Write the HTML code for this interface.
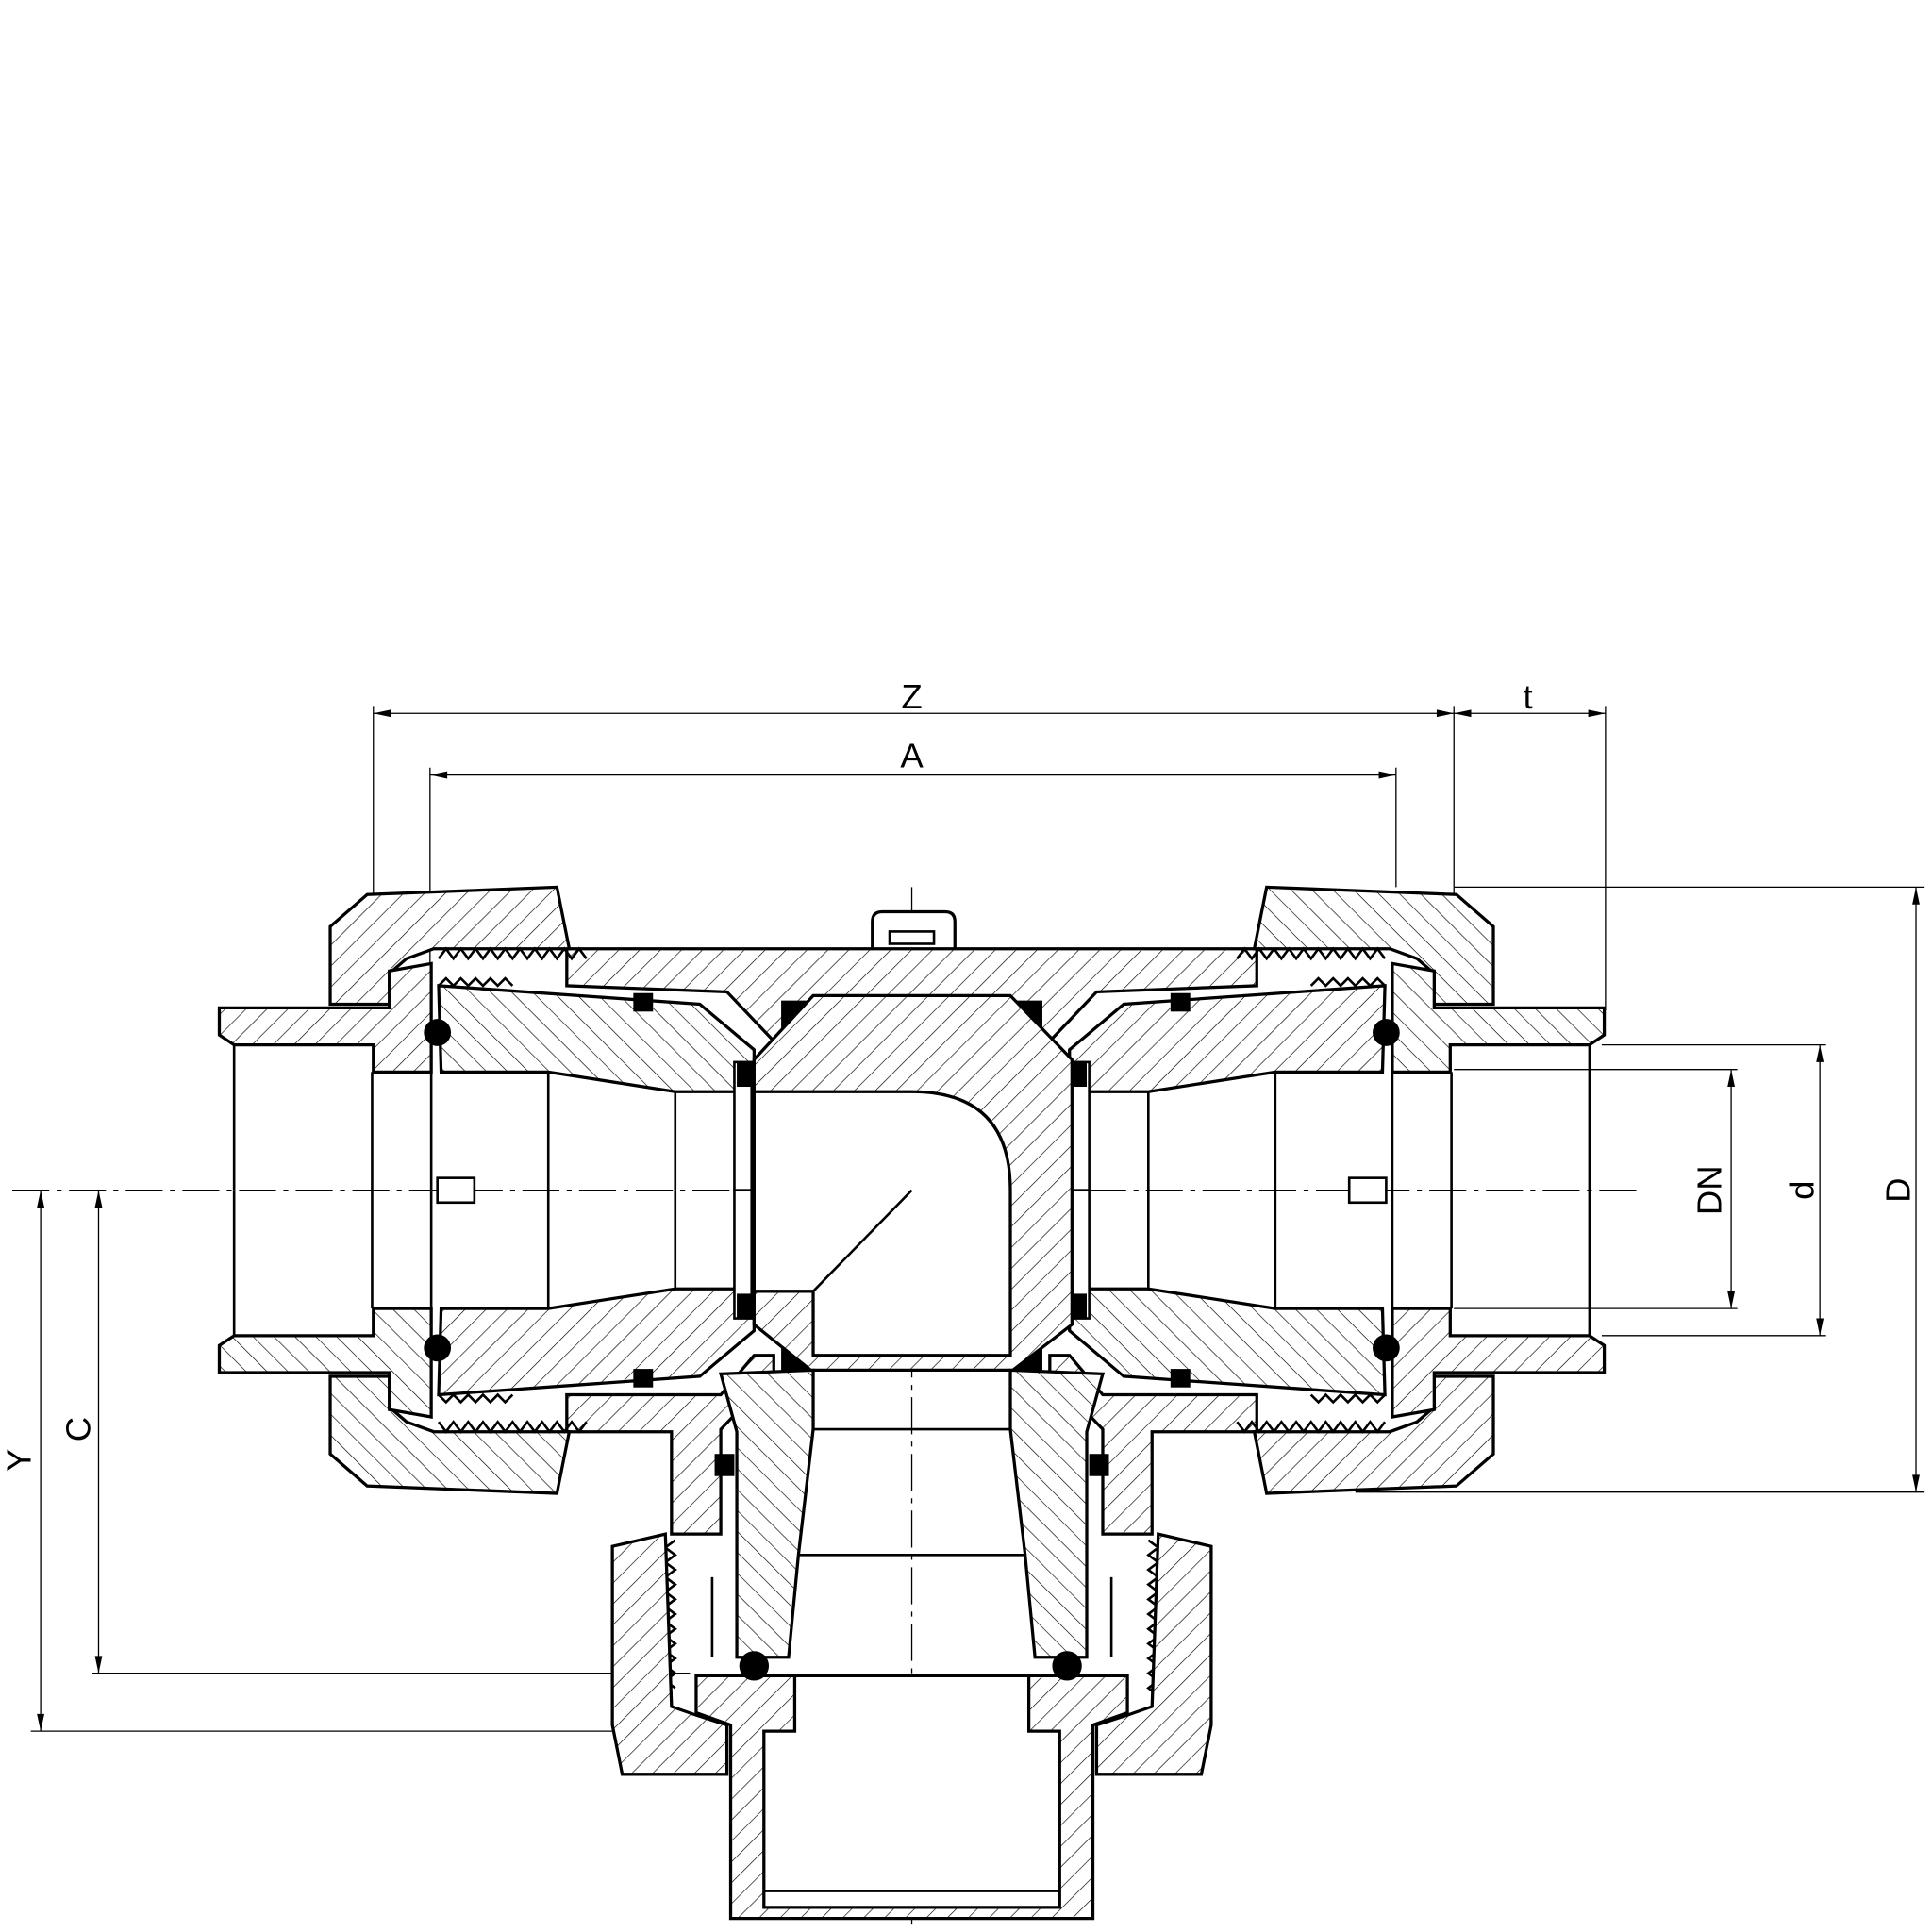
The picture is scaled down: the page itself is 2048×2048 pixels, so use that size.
<!DOCTYPE html>
<html><head><meta charset="utf-8"><style>html,body{margin:0;padding:0;background:#fff}svg{display:block}</style></head>
<body>
<svg width="2048" height="2048" viewBox="0 0 1568 1568" xmlns="http://www.w3.org/2000/svg" font-family="Liberation Sans, sans-serif">
<defs>
<pattern id="h" patternUnits="userSpaceOnUse" width="12" height="12" patternTransform="rotate(45)">
<rect width="12" height="12" fill="#fff"/><line x1="0" y1="0" x2="0" y2="12" stroke="#000" stroke-width="1"/></pattern>
<pattern id="h2" patternUnits="userSpaceOnUse" width="12" height="12" patternTransform="rotate(-45)">
<rect width="12" height="12" fill="#fff"/><line x1="0" y1="0" x2="0" y2="12" stroke="#000" stroke-width="1"/></pattern>
<g id="leftTop">
<path d="M268,752 L298,726 L452,720 L462,770 L352,770 L330,778 L316,790 L316,815 L268,815 Z" fill="url(#h)" stroke="#000" stroke-width="2.5"/>
<path d="M178,818 L316,818 L316,788 L350,782 L350,870 L303,870 L303,848 L190,848 L178,840 Z" fill="url(#h)" stroke="#000" stroke-width="2.5"/>
<path d="M356,800 L568,815 L612,852 L612,886 L548,886 L445,870 L358,870 Z" fill="url(#h2)" stroke="#000" stroke-width="2.5"/>
<path d="M356,778 l6,-8 l6,8 l6,-8 l6,8 l6,-8 l6,8 l6,-8 l6,8 l6,-8 l6,8 l6,-8 l6,8 l6,-8 l6,8 l6,-8 l6,8 l6,-8 l6,8 l6,-8 l6,8" fill="none" stroke="#000" stroke-width="2"/>
<path d="M356,800 l6,-6 l6,6 l6,-6 l6,6 l6,-6 l6,6 l6,-6 l6,6 l6,-6 l6,6" fill="none" stroke="#000" stroke-width="2"/>
<circle cx="355" cy="838" r="11" fill="#000"/>
<rect x="514" y="806" width="16" height="15" fill="#000"/>
<line x1="350" y1="870" x2="350" y2="966" stroke="#000" stroke-width="2"/>
<line x1="302" y1="870" x2="302" y2="966" stroke="#000" stroke-width="2"/>
<line x1="445" y1="870" x2="445" y2="966" stroke="#000" stroke-width="2"/>
<line x1="548" y1="886" x2="548" y2="966" stroke="#000" stroke-width="2"/>
<line x1="190" y1="848" x2="190" y2="966" stroke="#000" stroke-width="2"/>
<line x1="303" y1="870" x2="350" y2="870" stroke="#000" stroke-width="2"/>
<rect x="596" y="862" width="14" height="104" fill="#fff" stroke="#000" stroke-width="2"/>
<rect x="598" y="862" width="22" height="20" fill="#000"/>
<path d="M634,812 L655,812 L655,842 L634,842 Z" fill="#000"/>
</g>
</defs>

<g stroke="#000" stroke-width="1" fill="none">
<line x1="303" y1="579" x2="1303" y2="579"/>
<line x1="349" y1="629" x2="1133" y2="629"/>
<line x1="303" y1="573" x2="303" y2="815"/>
<line x1="349" y1="623" x2="349" y2="820"/>
<line x1="1133" y1="623" x2="1133" y2="720"/>
<line x1="1180" y1="573" x2="1180" y2="815"/>
<line x1="1303" y1="573" x2="1303" y2="820"/>
<line x1="1555" y1="720" x2="1555" y2="1211"/>
<line x1="1477" y1="848" x2="1477" y2="1084"/>
<line x1="1405" y1="868" x2="1405" y2="1062"/>
<line x1="1180" y1="720" x2="1562" y2="720"/>
<line x1="1100" y1="1211" x2="1562" y2="1211"/>
<line x1="1300" y1="848" x2="1482" y2="848"/>
<line x1="1300" y1="1084" x2="1482" y2="1084"/>
<line x1="1180" y1="868" x2="1410" y2="868"/>
<line x1="1180" y1="1062" x2="1410" y2="1062"/>
<line x1="33" y1="966" x2="33" y2="1405"/>
<line x1="80" y1="966" x2="80" y2="1358"/>
<line x1="75" y1="1358" x2="560" y2="1358"/>
<line x1="25" y1="1405" x2="590" y2="1405"/>
<line x1="10" y1="966" x2="1330" y2="966" stroke-dasharray="30,6,4,6"/>
<line x1="740" y1="720" x2="740" y2="1562" stroke-dasharray="30,6,4,6"/>
</g>
<g fill="#000">
<path d="M303,579 l14,-3 v6z M1180,579 l-14,-3 v6z M1180,579 l14,-3 v6z M1303,579 l-14,-3 v6z"/>
<path d="M349,629 l14,-3 v6z M1133,629 l-14,-3 v6z"/>
<path d="M1555,720 l-3,14 h6z M1555,1211 l-3,-14 h6z M1477,848 l-3,14 h6z M1477,1084 l-3,-14 h6z M1405,868 l-3,14 h6z M1405,1062 l-3,-14 h6z"/>
<path d="M33,966 l-3,14 h6z M33,1405 l-3,-14 h6z M80,966 l-3,14 h6z M80,1358 l-3,-14 h6z"/>
</g>
<g font-size="28" fill="#000" text-anchor="middle">
<text x="740" y="575">Z</text>
<text x="1240" y="575">t</text>
<text x="740" y="623">A</text>
<text transform="translate(1550,966) rotate(-90)">D</text>
<text transform="translate(1472,966) rotate(-90)">d</text>
<text transform="translate(1397,966) rotate(-90)">DN</text>
<text transform="translate(25,1185) rotate(-90)">Y</text>
<text transform="translate(73,1160) rotate(-90)">C</text>
</g>

<path d="M708,770 L708,748 Q708,740 716,740 L767,740 Q775,740 775,748 L775,770" fill="#fff" stroke="#000" stroke-width="2.5"/>
<rect x="722" y="756" width="36" height="10" fill="#fff" stroke="#000" stroke-width="2"/>

<path d="M460,770 L1020,770 L1020,800 L890,805 L852,845 L628,845 L590,805 L460,800 Z" fill="url(#h)" stroke="#000" stroke-width="2.5"/>
<path d="M460,1132 L585,1132 L612,1100 L628,1100 L628,1115 L585,1160 L585,1245 L545,1245 L545,1162 L460,1162 Z" fill="url(#h)" stroke="#000" stroke-width="2.5"/>
<path d="M1020,1132 L895,1132 L868,1100 L852,1100 L852,1115 L895,1160 L895,1245 L935,1245 L935,1162 L1020,1162 Z" fill="url(#h)" stroke="#000" stroke-width="2.5"/>

<use href="#leftTop"/>
<use href="#leftTop" transform="translate(0,1932) scale(1,-1)"/>
<use href="#leftTop" transform="translate(1480,0) scale(-1,1)"/>
<use href="#leftTop" transform="translate(1480,1932) scale(-1,-1)"/>

<path d="M660,808 L820,808 L870,860 L870,1075 L822,1112 L658,1112 L612,1075 L612,860 Z" fill="url(#h)" stroke="#000" stroke-width="2.5"/>
<path d="M612,886 L740,886 Q820,886 820,966 L820,1100 L660,1100 L660,1048 L612,1048 Z" fill="#fff" stroke="#000" stroke-width="2.5"/>
<line x1="660" y1="1048" x2="740" y2="966" stroke="#000" stroke-width="2"/>

<path d="M585,1115 L660,1112 L660,1160 L648,1262 L640,1345 L598,1345 L598,1162 Z" fill="url(#h2)" stroke="#000" stroke-width="2.5"/>
<path d="M895,1115 L820,1112 L820,1160 L832,1262 L840,1345 L882,1345 L882,1162 Z" fill="url(#h2)" stroke="#000" stroke-width="2.5"/>
<rect x="580" y="1180" width="16" height="18" fill="#000"/>
<rect x="884" y="1180" width="16" height="18" fill="#000"/>
<line x1="648" y1="1262" x2="832" y2="1262" stroke="#000" stroke-width="2"/>
<line x1="660" y1="1160" x2="820" y2="1160" stroke="#000" stroke-width="2"/>
<line x1="645" y1="1360" x2="835" y2="1360" stroke="#000" stroke-width="2"/>
<path d="M548,1250 l-8,6 l8,6 l-8,6 l8,6 l-8,6 l8,6 l-8,6 l8,6 l-8,6 l8,6 l-8,6 l8,6 l-8,6 l8,6 l-8,6 l8,6 l-8,6 l8,6 l-8,6 l8,6" fill="none" stroke="#000" stroke-width="2"/>
<path d="M932,1250 l8,6 l-8,6 l8,6 l-8,6 l8,6 l-8,6 l8,6 l-8,6 l8,6 l-8,6 l8,6 l-8,6 l8,6 l-8,6 l8,6 l-8,6 l8,6 l-8,6 l8,6 l-8,6 l8,6" fill="none" stroke="#000" stroke-width="2"/>
<path d="M497,1255 L540,1245 L545,1385 L565,1392 L590,1400 L590,1440 L505,1440 L497,1400 Z" fill="url(#h)" stroke="#000" stroke-width="2.5"/>
<path d="M983,1255 L940,1245 L935,1385 L915,1392 L890,1400 L890,1440 L975,1440 L983,1400 Z" fill="url(#h)" stroke="#000" stroke-width="2.5"/>
<path d="M565,1360 L915,1360 L915,1390 L887,1400 L887,1557 L593,1557 L593,1400 L565,1390 Z" fill="url(#h)" stroke="#000" stroke-width="2.5"/>
<path d="M645,1360 L835,1360 L835,1405 L860,1405 L860,1548 L620,1548 L620,1405 L645,1405 Z" fill="#fff" stroke="#000" stroke-width="2.5"/>
<line x1="620" y1="1535" x2="860" y2="1535" stroke="#000" stroke-width="1.5"/>
<circle cx="612" cy="1352" r="12" fill="#000"/>
<circle cx="866" cy="1352" r="12" fill="#000"/>
<line x1="578" y1="1280" x2="578" y2="1345" stroke="#000" stroke-width="2"/>
<line x1="902" y1="1280" x2="902" y2="1345" stroke="#000" stroke-width="2"/>
<rect x="355" y="956" width="30" height="20" fill="#fff" stroke="#000" stroke-width="2"/>
<rect x="1095" y="956" width="30" height="20" fill="#fff" stroke="#000" stroke-width="2"/>
</svg>
</body></html>
